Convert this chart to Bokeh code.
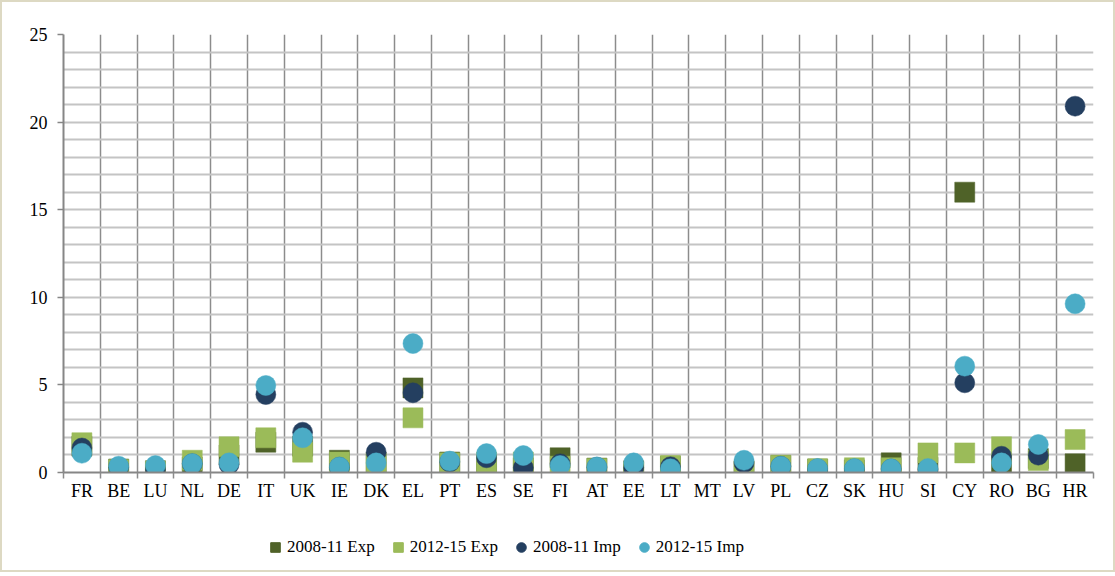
from bokeh.plotting import figure
from bokeh.models import FixedTicker, Legend, LegendItem
from bokeh.layouts import column
from bokeh.embed import file_html
from bokeh.resources import INLINE
import numpy as np

countries = ["FR", "BE", "LU", "NL", "DE", "IT", "UK", "IE", "DK", "EL", "PT", "ES", "SE", "FI",
             "AT", "EE", "LT", "MT", "LV", "PL", "CZ", "SK", "HU", "SI", "CY", "RO", "BG", "HR"]
exp_2008_11 = [1.5, 0.2, 0.1, 0.32, 1.0, 1.73, 1.5, 0.7, 0.6, 4.83, 0.6, 0.4, 0.27, 0.84,
               0.25, 0.1, 0.36, np.nan, 0.1, 0.4, 0.2, 0.15, 0.55, 0.3, 16.0, 0.4, 0.8, 0.5]
exp_2012_15 = [1.7, 0.17, 0.08, 0.7, 1.47, 1.98, 1.16, 0.6, 0.5, 3.12, 0.55, 0.6, 0.6, 0.36,
               0.23, 0.02, 0.4, np.nan, 0.08, 0.42, 0.21, 0.27, 0.27, 1.12, 1.12, 1.47, 0.68, 1.88]
imp_2008_11 = [1.4, 0.3, 0.17, 0.5, 0.45, 4.45, 2.3, 0.3, 1.16, 4.55, 0.6, 0.84, 0.27, 0.5,
               0.3, 0.27, 0.33, np.nan, 0.55, 0.35, 0.2, 0.2, 0.2, 0.17, 5.12, 0.93, 0.99, 20.91]
imp_2012_15 = [1.1, 0.36, 0.4, 0.51, 0.55, 4.97, 1.98, 0.32, 0.55, 7.36, 0.65, 1.08, 0.97, 0.4,
               0.32, 0.55, 0.21, np.nan, 0.7, 0.36, 0.23, 0.23, 0.21, 0.23, 6.07, 0.55, 1.6, 9.63]
series_names = ["2008-11 Exp", "2012-15 Exp", "2008-11 Imp", "2012-15 Imp"]
series_values = [exp_2008_11, exp_2012_15, imp_2008_11, imp_2012_15]
markers = ["square", "square", "circle", "circle"]
colors = ["#4F6228", "#9BBB59", "#243F60", "#4BACC6"]

n = len(countries)
xpos = [i + 0.5 for i in range(n)]

p = figure(width=1111, height=505, output_backend="svg", toolbar_location=None,
           x_range=(0, n), y_range=(0, 25),
           min_border_left=61, min_border_right=20, min_border_top=32, min_border_bottom=35)
p.outline_line_color = None
p.background_fill_color = "white"
p.border_fill_color = "white"

# grids
p.xgrid.ticker = FixedTicker(ticks=list(range(0, n + 1)))
p.xgrid.grid_line_color = "#8C8C8C"
p.xgrid.grid_line_width = 1.5
p.ygrid.ticker = FixedTicker(ticks=list(range(0, 26)))
p.ygrid.grid_line_color = "#C4C4C4"
p.ygrid.grid_line_width = 2

# x axis
p.xaxis.ticker = FixedTicker(ticks=xpos, minor_ticks=list(range(0, n + 1)))
p.xaxis.major_label_overrides = {x: c for x, c in zip(xpos, countries)}
p.xaxis.major_tick_out = 0
p.xaxis.major_tick_in = 0
p.xaxis.minor_tick_out = 6
p.xaxis.minor_tick_in = 0
p.xaxis.minor_tick_line_color = "#8C8C8C"
p.xaxis.minor_tick_line_width = 1.5
p.xaxis.axis_line_color = "#868686"
p.xaxis.axis_line_width = 2
p.xaxis.major_label_standoff = 2
p.xaxis.major_label_text_font = "Liberation Serif"
p.xaxis.major_label_text_font_size = "18px"
p.xaxis.major_label_text_color = "black"

# y axis
p.yaxis.ticker = FixedTicker(ticks=[0, 5, 10, 15, 20, 25])
p.yaxis.major_tick_out = 6
p.yaxis.major_tick_in = 0
p.yaxis.minor_tick_line_color = None
p.yaxis.major_tick_line_color = "#868686"
p.yaxis.major_tick_line_width = 1.5
p.yaxis.axis_line_color = "#868686"
p.yaxis.axis_line_width = 2
p.yaxis.major_label_standoff = 10
p.yaxis.major_label_text_font = "Liberation Serif"
p.yaxis.major_label_text_font_size = "18px"
p.yaxis.major_label_text_color = "black"

for vals, mk, col in zip(series_values, markers, colors):
    p.scatter(xpos, vals, marker=mk, size=20, fill_color=col, line_color=col, line_width=0.5)

# legend strip (separate figure below the chart; its renderers lie outside its range)
p2 = figure(width=1111, height=63, output_backend="svg", toolbar_location=None,
            x_range=(0, n), y_range=(100, 101), x_axis_type=None, y_axis_type=None,
            min_border_left=0, min_border_right=0, min_border_top=0, min_border_bottom=0)
p2.outline_line_color = None
p2.grid.visible = False
p2.border_fill_color = "white"
items = []
for name, vals, mk, col in zip(series_names, series_values, markers, colors):
    r = p2.scatter(xpos, vals, marker=mk, size=20, fill_color=col, line_color=col)
    items.append(LegendItem(label=name, renderers=[r]))

legend = Legend(items=items, orientation="horizontal", location=(200, 11),
                glyph_width=24, glyph_height=24, label_standoff=0, spacing=11,
                padding=0, margin=0,
                label_text_font="Liberation Serif", label_text_font_size="17px",
                label_text_color="black",
                border_line_color=None, background_fill_alpha=0)
p2.add_layout(legend, "center")

layout = column(p, p2, spacing=0)
layout.styles = {"border": "2px solid #DDD9C3"}

open("out.html", "w").write(file_html(layout, INLINE))
